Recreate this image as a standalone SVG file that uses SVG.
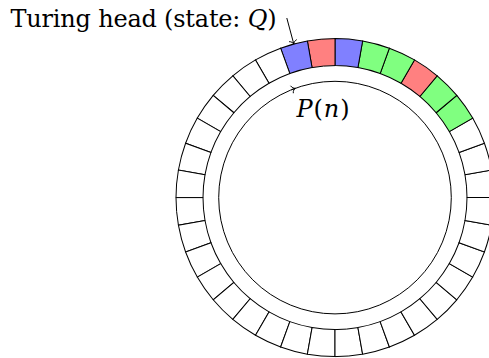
<svg xmlns="http://www.w3.org/2000/svg" xmlns:xlink="http://www.w3.org/1999/xlink" width="489" height="358" viewBox="0 0 489 358">
  <style>
    .cell { stroke: #000; stroke-width: 1; stroke-linejoin: miter; }
    .white { fill: #ffffff; }
    .blue { fill: #8080ff; }
    .red { fill: #ff8080; }
    .green { fill: #80ff80; }
    .line { fill: none; stroke: #000; stroke-width: 1; }
    .lbl { fill: #000; font-family: "DejaVu Serif", "Liberation Serif", serif; }
    .it { font-style: italic; }
  </style>
  <defs>
    <path id="cellShape" d="M 132 0 L 159 0 A 159 159 0 0 0 156.585 -27.610 L 129.995 -22.922 A 132 132 0 0 1 132 0 Z"/>
    <marker id="to" viewBox="-6 -6 12 12" markerWidth="12" markerHeight="12" refX="0" refY="0" markerUnits="userSpaceOnUse" orient="auto" overflow="visible">
      <path d="M -3.4 -3.6 C -2.9 -1.5 -1.2 -0.4 0 0 C -1.2 0.4 -2.9 1.5 -3.4 3.6" fill="none" stroke="#000" stroke-width="0.9" stroke-linecap="round"/>
    </marker>
  </defs>
  <rect width="489" height="358" fill="#fff"/>

  <g id="tape" transform="translate(335 197.6)">
    <g id="cell0"><use xlink:href="#cellShape" class="cell white" transform="rotate(0)"/></g>
    <g id="cell1"><use xlink:href="#cellShape" class="cell white" transform="rotate(-10)"/></g>
    <g id="cell2"><use xlink:href="#cellShape" class="cell white" transform="rotate(-20)"/></g>
    <g id="cell3"><use xlink:href="#cellShape" class="cell green" transform="rotate(-30)"/></g>
    <g id="cell4"><use xlink:href="#cellShape" class="cell green" transform="rotate(-40)"/></g>
    <g id="cell5"><use xlink:href="#cellShape" class="cell red" transform="rotate(-50)"/></g>
    <g id="cell6"><use xlink:href="#cellShape" class="cell green" transform="rotate(-60)"/></g>
    <g id="cell7"><use xlink:href="#cellShape" class="cell green" transform="rotate(-70)"/></g>
    <g id="cell8"><use xlink:href="#cellShape" class="cell blue" transform="rotate(-80)"/></g>
    <g id="cell9"><use xlink:href="#cellShape" class="cell red" transform="rotate(-90)"/></g>
    <g id="cell10"><use xlink:href="#cellShape" class="cell blue" transform="rotate(-100)"/></g>
    <g id="cell11"><use xlink:href="#cellShape" class="cell white" transform="rotate(-110)"/></g>
    <g id="cell12"><use xlink:href="#cellShape" class="cell white" transform="rotate(-120)"/></g>
    <g id="cell13"><use xlink:href="#cellShape" class="cell white" transform="rotate(-130)"/></g>
    <g id="cell14"><use xlink:href="#cellShape" class="cell white" transform="rotate(-140)"/></g>
    <g id="cell15"><use xlink:href="#cellShape" class="cell white" transform="rotate(-150)"/></g>
    <g id="cell16"><use xlink:href="#cellShape" class="cell white" transform="rotate(-160)"/></g>
    <g id="cell17"><use xlink:href="#cellShape" class="cell white" transform="rotate(-170)"/></g>
    <g id="cell18"><use xlink:href="#cellShape" class="cell white" transform="rotate(-180)"/></g>
    <g id="cell19"><use xlink:href="#cellShape" class="cell white" transform="rotate(-190)"/></g>
    <g id="cell20"><use xlink:href="#cellShape" class="cell white" transform="rotate(-200)"/></g>
    <g id="cell21"><use xlink:href="#cellShape" class="cell white" transform="rotate(-210)"/></g>
    <g id="cell22"><use xlink:href="#cellShape" class="cell white" transform="rotate(-220)"/></g>
    <g id="cell23"><use xlink:href="#cellShape" class="cell white" transform="rotate(-230)"/></g>
    <g id="cell24"><use xlink:href="#cellShape" class="cell white" transform="rotate(-240)"/></g>
    <g id="cell25"><use xlink:href="#cellShape" class="cell white" transform="rotate(-250)"/></g>
    <g id="cell26"><use xlink:href="#cellShape" class="cell white" transform="rotate(-260)"/></g>
    <g id="cell27"><use xlink:href="#cellShape" class="cell white" transform="rotate(-270)"/></g>
    <g id="cell28"><use xlink:href="#cellShape" class="cell white" transform="rotate(-280)"/></g>
    <g id="cell29"><use xlink:href="#cellShape" class="cell white" transform="rotate(-290)"/></g>
    <g id="cell30"><use xlink:href="#cellShape" class="cell white" transform="rotate(-300)"/></g>
    <g id="cell31"><use xlink:href="#cellShape" class="cell white" transform="rotate(-310)"/></g>
    <g id="cell32"><use xlink:href="#cellShape" class="cell white" transform="rotate(-320)"/></g>
    <g id="cell33"><use xlink:href="#cellShape" class="cell white" transform="rotate(-330)"/></g>
    <g id="cell34"><use xlink:href="#cellShape" class="cell white" transform="rotate(-340)"/></g>
    <g id="cell35"><use xlink:href="#cellShape" class="cell white" transform="rotate(-350)"/></g>
  </g>

  <g id="inner-circle">
    <circle cx="335" cy="197.6" r="116.3" class="line"/>
  </g>

  <g id="head-label">
    <text class="lbl" x="10.5" y="27" font-size="24" textLength="266" lengthAdjust="spacing">Turing head (state: <tspan class="it">Q</tspan>)</text>
  </g>

  <g id="pointer-label">
    <text class="lbl" x="296.5" y="116.7" font-size="24" textLength="53" lengthAdjust="spacing"><tspan class="it">P</tspan>(<tspan class="it">n</tspan>)</text>
  </g>

  <g id="connectors">
    <path id="head-arrow" class="line" d="M 286.8 18.0 L 293.8 44.0" marker-end="url(#to)"/>
    <path id="pointer-arrow" class="line" d="M 291.43 89.77 A 116.3 116.3 0 0 1 295.22 88.31" marker-end="url(#to)"/>
  </g>
</svg>
